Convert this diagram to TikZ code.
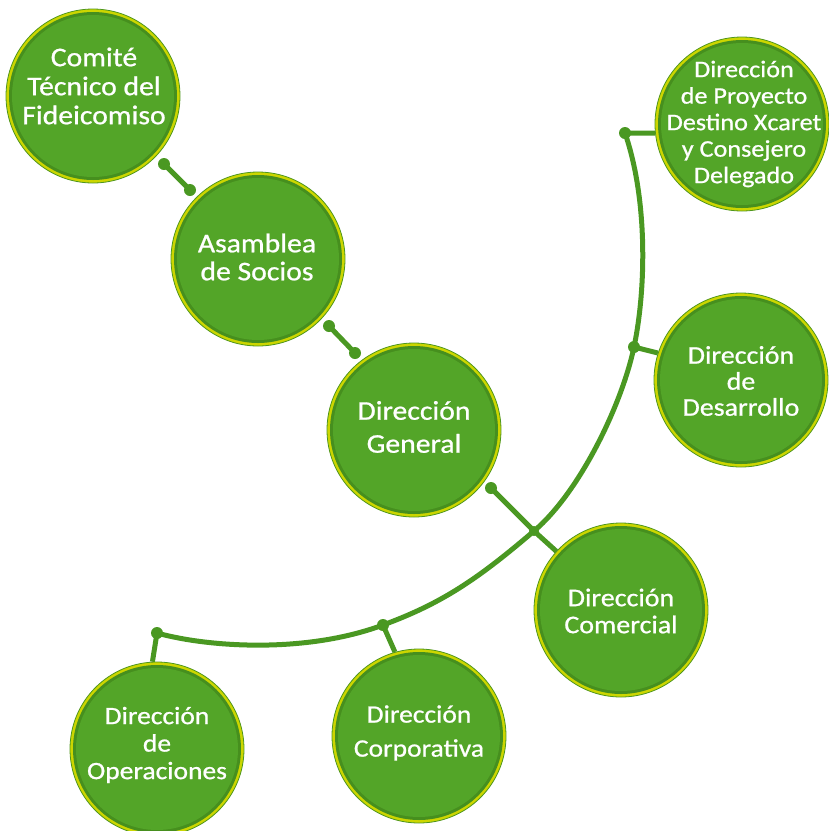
\documentclass[tikz,border=0pt]{standalone}
\usepackage{fontspec}
\setmainfont{Carlito}[FakeStretch=1.1,FakeBold=0.8]
\definecolor{mainGreen}{RGB}{83,165,40}
\definecolor{darkRing}{RGB}{70,143,30}
\definecolor{yellowRing}{RGB}{204,214,0}
\definecolor{edgeGreen}{RGB}{78,150,30}
\definecolor{lineGreen}{RGB}{74,152,34}
\newcommand{\orgcircle}[3]{%
  \node[orgcirc] (#1) at (#2,#3) {};
  \fill[darkRing] (#1.center) circle (84pt);
  \fill[mainGreen] (#1.center) circle (81pt);
}
\begin{document}
\begin{tikzpicture}[x=1pt,y=-1pt,
  orgcirc/.style={circle, minimum size=174pt, inner sep=0pt, fill=yellowRing, draw=edgeGreen, line width=0.8pt},
  orgtext/.style={text=white, align=center, inner sep=0pt},
  link/.style={draw=lineGreen, line width=5pt},
  jdot/.style={circle, fill=lineGreen, minimum size=12pt, inner sep=0pt}
]
\useasboundingbox (0,0) rectangle (829,831);

% circles
\orgcircle{c1}{93}{96}
\orgcircle{c2}{258}{259}
\orgcircle{c3}{414}{430}
\orgcircle{c4}{742}{124}
\orgcircle{c5}{741}{380}
\orgcircle{c6}{621}{610}
\orgcircle{c7}{419}{736}
\orgcircle{c8}{157}{749}

% junction coordinates
\coordinate (pA1) at (164,164);
\coordinate (pA2) at (190,190);
\coordinate (pB1) at (329,326);
\coordinate (pB2) at (355,353);
\coordinate (pG) at (491,488);
\coordinate (pC) at (534,531);
\coordinate (pTop) at (625,133);
\coordinate (pDes) at (634,347);
\coordinate (pCorp) at (383,625);
\coordinate (pOp) at (157,633);

% links
\draw[link] (pA1) -- (pA2);
\draw[link] (pB1) -- (pB2);
\draw[link] (pG) -- (pC) -- (c6);
\draw[link] (pTop) .. controls (648,200) and (646,290) .. (pDes)
  .. controls (622,404) and (580,492) .. (pC)
  .. controls (479,578) and (443,603) .. (pCorp)
  .. controls (305,654) and (207,647) .. (pOp);
\draw[link] (pTop) -- (c4.186);
\draw[link] (pDes) -- (c5.162);
\draw[link] (pCorp) -- (c7.106);
\draw[link] (pOp) -- (c8.93);

% dots
\node[jdot] (dA1) at (pA1) {};
\node[jdot] (dA2) at (pA2) {};
\node[jdot] (dB1) at (pB1) {};
\node[jdot] (dB2) at (pB2) {};
\node[jdot] (dG) at (pG) {};
\node[jdot, minimum size=10pt] (dC) at (pC) {};
\node[jdot] (dTop) at (pTop) {};
\node[jdot] (dDes) at (pDes) {};
\node[jdot] (dCorp) at (pCorp) {};
\node[jdot] (dOp) at (pOp) {};

% texts
\node[orgtext, font=\fontsize{27}{29}\selectfont] (t1) at (94,86) {Comité\\Técnico del\\Fideicomiso};
\node[orgtext, font=\fontsize{27}{28}\selectfont] (t2) at (257,257) {Asamblea\\de Socios};
\node[orgtext, font=\fontsize{27}{33}\selectfont] (t3) at (414,427) {Dirección\\General};
\node[orgtext, font=\fontsize{23.8}{26.5}\selectfont] (t4) at (744,124) {Dirección\\de Proyecto\\Destino Xcaret\\y Consejero\\Delegado};
\node[orgtext, font=\fontsize{25.4}{26}\selectfont] (t5) at (741,381) {Dirección\\de\\Desarrollo};
\node[orgtext, font=\fontsize{25.4}{27}\selectfont] (t6) at (621,611) {Dirección\\Comercial};
\node[orgtext, font=\fontsize{25}{34}\selectfont] (t7) at (419,733) {Dirección\\Corporativa};
\node[orgtext, font=\fontsize{25}{27.5}\selectfont] (t8) at (157,745) {Dirección\\de\\Operaciones};
\end{tikzpicture}
\end{document}
